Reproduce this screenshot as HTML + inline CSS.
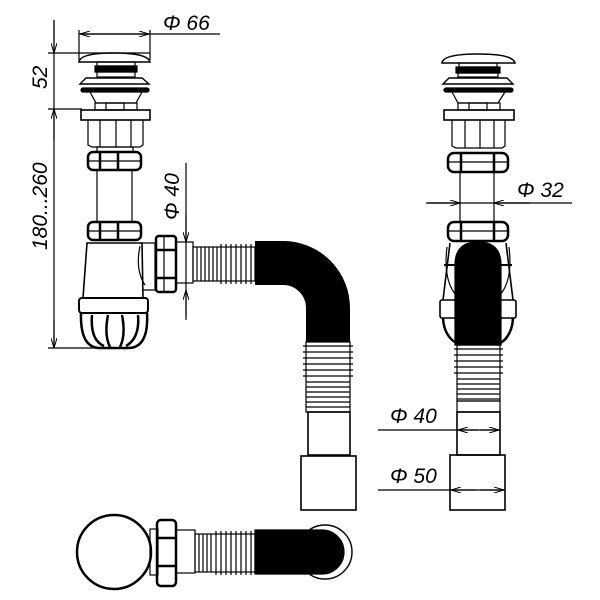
<!DOCTYPE html>
<html><head><meta charset="utf-8"><style>
html,body{margin:0;padding:0;background:#fff;}
svg{display:block}
text{font-family:"Liberation Sans",sans-serif;font-style:italic;font-size:21px;fill:#000}
</style></head><body>
<svg width="600" height="600" viewBox="0 0 600 600" xmlns="http://www.w3.org/2000/svg">
<defs>
<marker id="a" viewBox="0 0 10 6" refX="10" refY="3" markerWidth="10" markerHeight="6" orient="auto-start-reverse" markerUnits="userSpaceOnUse"><path d="M0,0 L10,3 L0,6" fill="none" stroke="#000" stroke-width="1"/></marker>
</defs>
<g fill="none" stroke="#000" stroke-width="1.2">
<!-- ===== LEFT VIEW ===== -->
<!-- dims -->
<line x1="79" y1="30" x2="79" y2="60"/><line x1="150" y1="30" x2="150" y2="60"/>
<line x1="79" y1="34" x2="220" y2="34"/>
<line x1="80" y1="34" x2="149" y2="34" marker-start="url(#a)" marker-end="url(#a)"/>
<line x1="54" y1="20" x2="54" y2="348"/>
<line x1="54" y1="21" x2="54" y2="53" marker-end="url(#a)"/>
<line x1="54" y1="109" x2="54" y2="140" marker-start="url(#a)"/>
<line x1="54" y1="320" x2="54" y2="348" marker-end="url(#a)"/>
<line x1="48" y1="53" x2="150" y2="53"/>
<line x1="48" y1="109" x2="82" y2="109"/>
<line x1="48" y1="348" x2="100" y2="348"/>
<line x1="186" y1="163" x2="186" y2="320"/>
<line x1="186" y1="215" x2="186" y2="242" marker-end="url(#a)"/>
<line x1="186" y1="316" x2="186" y2="290" marker-end="url(#a)"/>
<!-- cap -->
<path d="M79,62 Q80,53 114,53 Q148,53 150,62 Z" stroke-width="1.6"/>
<rect x="97" y="62" width="38" height="4"/>
<rect x="95" y="66" width="42" height="6" fill="#000"/>
<rect x="97" y="72" width="38" height="5"/>
<path d="M80,84 L86,78 L142,78 L149,84 Z" stroke-width="1.4"/>
<rect x="81" y="88" width="68" height="4" rx="2" fill="#000"/>
<path d="M90,92 L96,103 L136,103 L142,92"/>
<rect x="95" y="103" width="42" height="7"/>
<rect x="106" y="103" width="18" height="7"/>
<rect x="81" y="110" width="69" height="10" stroke-width="1.6"/>
<path d="M88,120 L88,145 L92,147 L140,147 L143,145 L143,120"/>
<line x1="100" y1="120" x2="100" y2="147"/><line x1="116" y1="120" x2="116" y2="147"/><line x1="131" y1="120" x2="131" y2="147"/>
<!-- ring nut -->
<rect x="88" y="152" width="53" height="18" rx="5" stroke-width="2.5"/>
<line x1="100" y1="152" x2="100" y2="170" stroke-width="2.5"/><line x1="118" y1="152" x2="118" y2="170" stroke-width="2.5"/><line x1="89" y1="161" x2="140" y2="161"/>
<rect x="97" y="147" width="36" height="5"/>
<!-- pipe -->
<line x1="97" y1="170" x2="97" y2="222"/><line x1="132" y1="170" x2="132" y2="222"/>
<rect x="88" y="222" width="53" height="18" rx="5" stroke-width="2.5"/>
<line x1="100" y1="222" x2="100" y2="240" stroke-width="2.5"/><line x1="118" y1="222" x2="118" y2="240" stroke-width="2.5"/><line x1="89" y1="231" x2="140" y2="231"/>
<!-- body -->
<path d="M87,243 L83,298 L143,298 L142,243 Z" stroke-width="1.6"/>
<path d="M140,243 L155,243 L155,290 L143,290"/>
<path d="M140,246 Q135,270 145,285"/>
<rect x="79" y="298" width="69" height="15" rx="3" stroke-width="2"/>
<path d="M81,313 Q80,348 100,348 L128,348 Q149,348 147,313" stroke-width="2.5"/>
<path d="M92,315 Q90,340 104,346 M108,315 Q104,335 110,347 M122,315 Q126,335 120,347 M138,315 Q140,338 126,346" stroke-width="2.5"/>
<!-- side nut -->
<rect x="156" y="236" width="20" height="56" rx="3" stroke-width="2.5"/>
<line x1="156" y1="250" x2="176" y2="250" stroke-width="2.5"/><line x1="156" y1="278" x2="176" y2="278" stroke-width="2.5"/>
<line x1="164" y1="237" x2="164" y2="291"/>
<rect x="176" y="242" width="17" height="41"/>
<!-- corrugated horizontal -->
<rect x="193" y="247" width="62" height="34"/>
<path d="M197,247v34M201,247v34M205,247v34M209,247v34M213,247v34M217,247v34M221,244v40M226,244v40M231,244v40M236,244v40M241,244v40M246,244v40M251,244v40"/>
<!-- black bend -->
<path d="M255,263 L283,263 A45,45 0 0 1 328,308 L328,342" stroke-width="44"/>
<!-- vertical corrugated -->
<rect x="306" y="342" width="44" height="70"/>
<path d="M303,346h50M303,352h50M303,358h50M303,364h50M303,370h50M303,376h50M306,382h44M306,387h44M306,392h44M306,397h44M306,402h44M306,407h44"/>
<rect x="308" y="412" width="42" height="43" stroke-width="1.6"/>
<rect x="301" y="456" width="55" height="54" stroke-width="1.6"/>
<!-- ===== BOTTOM VIEW ===== -->
<circle cx="114" cy="552" r="37" stroke-width="2.5"/>
<rect x="150" y="529" width="8" height="46"/>
<rect x="157" y="520" width="19" height="66" rx="4" stroke-width="2.5"/>
<line x1="157" y1="538" x2="176" y2="538" stroke-width="2.5"/><line x1="157" y1="566" x2="176" y2="566" stroke-width="2.5"/>
<rect x="176" y="530" width="19" height="43"/>
<rect x="195" y="534" width="60" height="38"/>
<path d="M199,534v38M203,534v38M207,534v38M211,534v38M216,531v44M221,531v44M226,531v44M231,531v44M236,531v44M241,531v44M246,531v44M251,531v44"/>
<circle cx="325" cy="552" r="27" stroke-width="1.4"/>
<path d="M255,530 L322,530 A22,22 0 0 1 322,574 L255,574 Z" fill="#000"/>
<!-- ===== RIGHT VIEW ===== -->
<path d="M442,63 Q443,54 478,54 Q513,54 515,63 Z" stroke-width="1.6"/>
<rect x="459" y="63" width="38" height="4"/>
<rect x="456" y="67" width="44" height="6" fill="#000"/>
<rect x="458" y="73" width="40" height="4"/>
<path d="M443,84 L449,78 L507,78 L513,84 Z" stroke-width="1.4"/>
<rect x="444" y="88" width="69" height="4" rx="2" fill="#000"/>
<path d="M452,92 L458,103 L498,103 L505,92"/>
<rect x="458" y="103" width="42" height="7"/><rect x="469" y="103" width="18" height="7"/>
<rect x="444" y="110" width="70" height="10" stroke-width="1.6"/>
<path d="M452,120 L452,146 L456,148 L502,148 L505,146 L505,120"/>
<line x1="465" y1="120" x2="465" y2="148"/><line x1="480" y1="120" x2="480" y2="148"/><line x1="494" y1="120" x2="494" y2="148"/>
<rect x="448" y="153" width="60" height="19" rx="6" stroke-width="2.5"/>
<line x1="461" y1="153" x2="461" y2="172" stroke-width="2.5"/><line x1="494" y1="153" x2="494" y2="172" stroke-width="2.5"/><line x1="449" y1="162" x2="507" y2="162"/>
<line x1="460" y1="172" x2="460" y2="222"/><line x1="494" y1="172" x2="494" y2="222"/>
<line x1="426" y1="203" x2="572" y2="203"/>
<line x1="428" y1="203" x2="460" y2="203" marker-end="url(#a)"/>
<line x1="530" y1="203" x2="494" y2="203" marker-end="url(#a)"/>
<rect x="448" y="222" width="60" height="19" rx="6" stroke-width="2.5"/>
<line x1="461" y1="222" x2="461" y2="241" stroke-width="2.5"/><line x1="494" y1="222" x2="494" y2="241" stroke-width="2.5"/><line x1="449" y1="231" x2="507" y2="231"/>
<path d="M450,243 L443,300 M506,243 L513,300" stroke-width="1.6"/>
<path d="M447,247 Q443,280 456,295 M509,247 Q513,280 500,295" />
<line x1="444" y1="265" x2="512" y2="265" stroke-width="2"/>
<rect x="440" y="300" width="76" height="18" rx="2" stroke-width="1.6"/>
<path d="M443,318 Q444,338 460,345 M513,318 Q512,338 497,345" stroke-width="2.5"/>
<path d="M455,345 L455,265 Q455,242 478,242 Q501,242 501,265 L501,345 Z" fill="#000"/>
<rect x="457" y="345" width="43" height="56"/>
<path d="M454,349h49M454,355h49M454,361h49M454,367h49M454,373h49M457,379h43M457,384h43M457,389h43M457,394h43M457,399h43"/>
<rect x="457" y="401" width="43" height="11"/>
<rect x="457" y="412" width="43" height="43" stroke-width="1.6"/>
<rect x="450" y="455" width="55" height="55" stroke-width="1.6"/>
<line x1="378" y1="430" x2="500" y2="430"/>
<line x1="478" y1="430" x2="458" y2="430" marker-end="url(#a)"/>
<line x1="480" y1="430" x2="499" y2="430" marker-end="url(#a)"/>
<line x1="378" y1="490" x2="505" y2="490"/>
<line x1="476" y1="490" x2="451" y2="490" marker-end="url(#a)"/>
<line x1="480" y1="490" x2="504" y2="490" marker-end="url(#a)"/>
</g>
<text x="163" y="30">Φ 66</text>
<text transform="translate(47,89) rotate(-90)">52</text>
<text transform="translate(47,250) rotate(-90)">180...260</text>
<text transform="translate(179,220) rotate(-90)">Φ 40</text>
<text x="517" y="197">Φ 32</text>
<text x="390" y="423">Φ 40</text>
<text x="390" y="483">Φ 50</text>
</svg>
</body></html>
